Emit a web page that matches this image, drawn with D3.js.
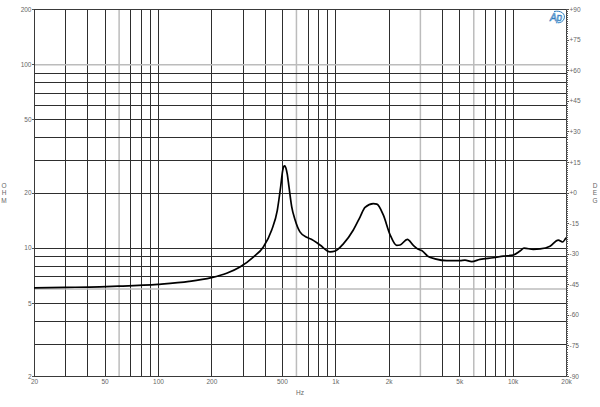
<!DOCTYPE html>
<html>
<head>
<meta charset="utf-8">
<script src="https://cdn.jsdelivr.net/npm/d3@7/dist/d3.min.js"></script>
<style>
	body { margin: 0; background: #fff; }
	svg { display: block; font-family: 'Liberation Sans', Arial, sans-serif; }
	.axis text { fill: #666; font-size: 6.5px; }
	.axis path.domain { stroke: none; }
	.axis line { stroke: #555; shape-rendering: crispEdges; }
	.grid line { stroke: #2e2e2e; shape-rendering: crispEdges; }
	.grid path.domain { stroke: none; }
	.grid line.soft { stroke: #bcbcbc; stroke-width: 1.5; shape-rendering: auto; }
	.frame { fill: none; stroke: #3a3a3a; shape-rendering: crispEdges; }
	.title { fill: #666; font-size: 6.5px; }
</style>
</head>
<body>
<div id="chart"></div>
<script>
/* global d3 */

// impedance curve
var freqs = [20, 30, 47, 60, 100, 150, 200, 244, 290, 345, 393, 438, 471, 492, 505, 511, 518, 526, 536, 548, 568, 593,
	632, 690, 737, 820, 934, 1000, 1110, 1264, 1379, 1471, 1639, 1716, 1865, 2035, 2220, 2317, 2548, 2755,
	2940, 3071, 3346, 3651, 4249, 5050, 5388, 5878, 6548, 7783, 8862, 10092, 11005, 11595, 13085, 14273,
	16248, 18100, 19100, 20000];
var ohms = [6.05, 6.08, 6.12, 6.17, 6.32, 6.55, 6.87, 7.26, 7.85, 8.9, 10.1, 12.5, 16.0, 21.5, 26.3, 27.6, 27.9, 27.3, 25.2, 21.5, 16.7, 14.2,
	12.2, 11.4, 11.1, 10.35, 9.5, 9.6, 10.5, 12.5, 14.7, 16.6, 17.4, 17.3, 15.1, 11.8, 10.3, 10.35, 11.1, 10.3,
	9.8, 9.65, 8.95, 8.7, 8.5, 8.5, 8.55, 8.4, 8.65, 8.82, 9.0, 9.13, 9.6, 9.95, 9.8, 9.85,
	10.2, 11.0, 10.75, 11.35];

var freqGrid = [20, 30, 40, 50, 60, 70, 80, 90, 100, 200, 300, 400, 500, 600, 700, 800, 900,
	1000, 2000, 3000, 4000, 5000, 6000, 7000, 8000, 9000, 10000, 20000];
var ohmGrid = [2, 3, 4, 5, 6, 7, 8, 9, 10, 20, 30, 40, 50, 60, 70, 80, 90, 100, 200];
// lines that come out pale in the original
var softFreq = [60, 600, 3000, 6000];
var softOhm = [6, 100];

var freqLabels = [20, 50, 100, 200, 500, 1000, 2000, 5000, 10000, 20000];
var ohmLabels = [2, 5, 10, 20, 50, 100, 200];
var degLabels = [-90, -75, -60, -45, -30, -15, 0, 15, 30, 45, 60, 75, 90];

var buildChart = function (el) {
	'use strict';

	function ImpedanceChart (el) {
		this.data 	= freqs.map(function (f, i) { return {f: f, z: ohms[i]}; });
		this.scales	= this.setScales();

		this.svg 	= this.buildSVG(el);
		this.g 		= this.addMainGroup();
		this.addGrid();
		this.addFrame();
		this.addAxes();
		this.addTitles();
		this.addCurve();
		this.addLogo();
	}

	ImpedanceChart.prototype = {
		margin: {top: 9, right: 34, bottom: 31, left: 34},
		size: {width: 600, height: 407},

		setScales: function () {
			var w = this.size.width - this.margin.left - this.margin.right,
				h = this.size.height - this.margin.top - this.margin.bottom;
			this.width = w;
			this.height = h;
			return {
				x: d3.scaleLog().domain([20, 20000]).range([0, w]),
				y: d3.scaleLog().domain([2, 200]).range([h, 0]),
				deg: d3.scaleLinear().domain([-90, 90]).range([h, 0])
			};
		},

		buildSVG: function (el) {
			return d3.select(el).append('svg')
						.attr('width', this.size.width)
						.attr('height', this.size.height);
		},

		addMainGroup: function () {
			return this.svg.append('g')
						.attr('transform', 'translate(' + this.margin.left + ',' + this.margin.top + ')');
		},

		addGrid: function () {
			var gx = this.g.append('g')
					.attr('class', 'grid')
					.attr('transform', 'translate(0,' + this.height + ')')
					.call(d3.axisBottom(this.scales.x).tickValues(freqGrid).tickSize(-this.height).tickFormat(''));
			gx.selectAll('.tick line').classed('soft', function (d) { return softFreq.indexOf(d) > -1; });

			var gy = this.g.append('g')
					.attr('class', 'grid')
					.call(d3.axisLeft(this.scales.y).tickValues(ohmGrid).tickSize(-this.width).tickFormat(''));
			gy.selectAll('.tick line').classed('soft', function (d) { return softOhm.indexOf(d) > -1; });
		},

		addFrame: function () {
			this.g.append('rect')
					.attr('class', 'frame')
					.attr('x', 0.5)
					.attr('y', 0.5)
					.attr('width', this.width)
					.attr('height', this.height);
		},

		addAxes: function () {
			var fmt = function (d) { return d >= 1000 ? (d / 1000) + 'k' : d; };

			this.g.append('g')
					.attr('class', 'axis axis--x')
					.attr('transform', 'translate(0,' + this.height + ')')
					.call(d3.axisBottom(this.scales.x).tickValues(freqLabels).tickFormat(fmt).tickSize(0).tickPadding(3));

			this.g.append('g')
					.attr('class', 'axis axis--y')
					.call(d3.axisLeft(this.scales.y).tickValues(ohmLabels).tickFormat(function (d) { return d; }).tickSize(2).tickPadding(0.5));

			this.g.append('g')
					.attr('class', 'axis axis--minor')
					.attr('transform', 'translate(' + this.width + ',0)')
					.call(d3.axisRight(this.scales.deg).tickValues(d3.range(-90, 91, 1)).tickSize(1.5).tickFormat(''));

			this.g.append('g')
					.attr('class', 'axis axis--deg')
					.attr('transform', 'translate(' + this.width + ',0)')
					.call(d3.axisRight(this.scales.deg).tickValues(degLabels).tickSize(3).tickPadding(0.5)
						.tickFormat(function (d) { return d >= 0 ? '+' + d : d; }));
		},

		addTitles: function () {
			var that = this;
			var stack = function (x, letters) {
				that.svg.append('text')
						.attr('class', 'title')
						.attr('text-anchor', 'middle')
						.selectAll('tspan')
						.data(letters.split(''))
						.enter().append('tspan')
							.attr('x', x)
							.attr('y', function (d, i) { return 187.5 + i * 7.5; })
							.text(function (d) { return d; });
			};
			stack(4, 'OHM');
			stack(595, 'DEG');

			this.svg.append('text')
					.attr('class', 'title')
					.attr('text-anchor', 'middle')
					.attr('x', this.margin.left + this.width / 2)
					.attr('y', 395)
					.text('Hz');
		},

		addCurve: function () {
			var that = this;
			var line = d3.line()
						.curve(d3.curveMonotoneX)
						.x(function (d) { return that.scales.x(d.f); })
						.y(function (d) { return that.scales.y(d.z); });

			this.g.append('path')
					.datum(this.data)
					.attr('d', line)
					.attr('fill', 'none')
					.attr('stroke', '#000')
					.attr('stroke-width', 1.7)
					.attr('stroke-linejoin', 'round');
		},

		addLogo: function () {
			var logo = this.svg.append('g')
					.attr('transform', 'translate(557,17)');
			logo.append('text')
					.attr('text-anchor', 'middle')
					.attr('x', -1)
					.attr('y', 3.5)
					.attr('font-size', '10px')
					.attr('font-style', 'italic')
					.attr('fill', 'none')
					.attr('stroke', '#2f7dbf')
					.attr('stroke-width', 0.6)
					.text('Ap');
			logo.append('path')
					.attr('d', 'M-3,-5.5 C4,-7 9,-3 7,2 C6,4.5 3.5,5.8 1,5.8')
					.attr('fill', 'none')
					.attr('stroke', '#2f7dbf')
					.attr('stroke-width', 1);
		}
	};

	return new ImpedanceChart(el);
};

buildChart('#chart');
</script>
</body>
</html>
